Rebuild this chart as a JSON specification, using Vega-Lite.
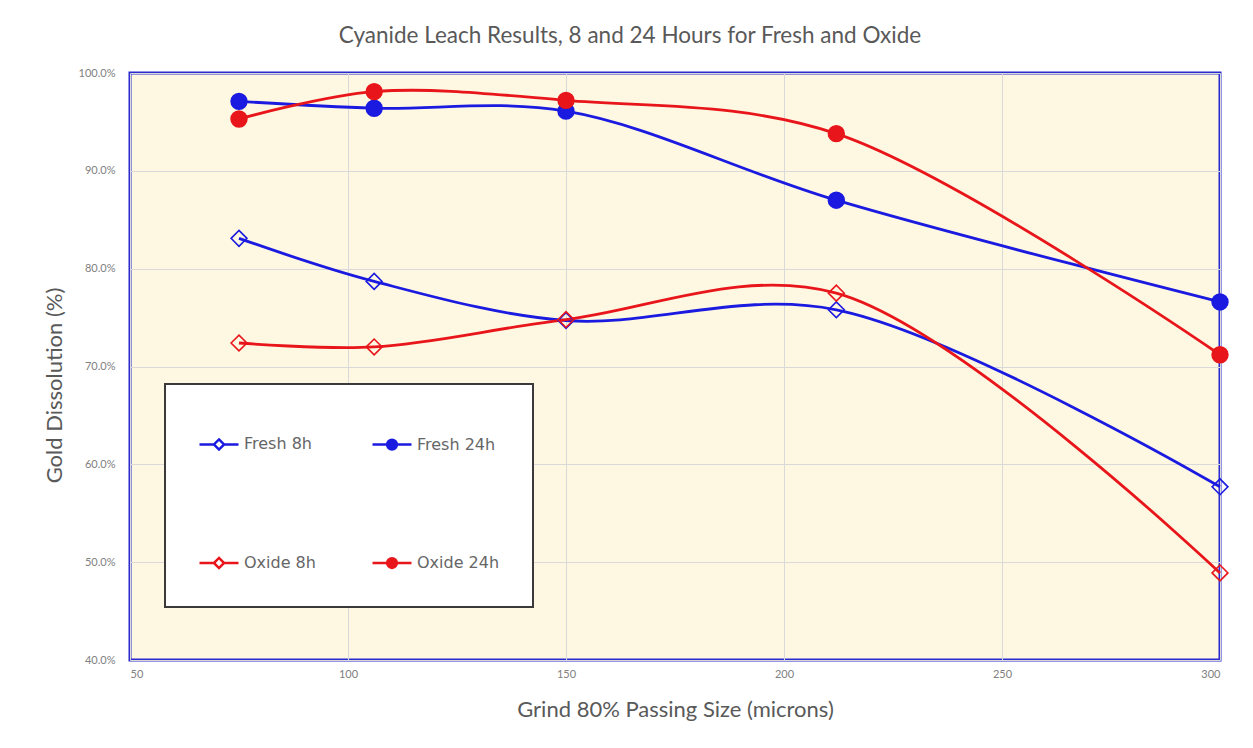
{
  "$schema": "https://vega.github.io/schema/vega-lite/v6.json",
  "width": 1090,
  "height": 587,
  "autosize": {"type": "none"},
  "padding": {"left": 130, "top": 73, "right": 33, "bottom": 88},
  "background": "white",
  "title": {
    "text": "Cyanide Leach Results, 8 and 24 Hours for Fresh and Oxide",
    "font": "Lato",
    "fontSize": 22.5,
    "fontWeight": "normal",
    "color": "#595959",
    "anchor": "middle",
    "frame": "group",
    "dx": -45,
    "offset": 20
  },
  "config": {
    "view": {"fill": "#FEF8E2", "stroke": "#2A2AD0", "strokeWidth": 3},
    "axis": {
      "grid": true,
      "gridColor": "#D9D9D9",
      "gridWidth": 1,
      "domain": false,
      "ticks": false,
      "labelFont": "Lato",
      "labelFontSize": 11,
      "labelColor": "#808080",
      "titleFont": "Lato",
      "titleFontSize": 22,
      "titleFontWeight": "normal",
      "titleColor": "#595959"
    }
  },
  "data": {
    "values": [
      {"grind": 75, "series": "Fresh 8h", "dissolution": 0.831},
      {"grind": 106, "series": "Fresh 8h", "dissolution": 0.787},
      {"grind": 150, "series": "Fresh 8h", "dissolution": 0.747},
      {"grind": 212, "series": "Fresh 8h", "dissolution": 0.758},
      {"grind": 300, "series": "Fresh 8h", "dissolution": 0.577},
      {"grind": 75, "series": "Fresh 24h", "dissolution": 0.971},
      {"grind": 106, "series": "Fresh 24h", "dissolution": 0.964},
      {"grind": 150, "series": "Fresh 24h", "dissolution": 0.961},
      {"grind": 212, "series": "Fresh 24h", "dissolution": 0.870},
      {"grind": 300, "series": "Fresh 24h", "dissolution": 0.766},
      {"grind": 75, "series": "Oxide 8h", "dissolution": 0.724},
      {"grind": 106, "series": "Oxide 8h", "dissolution": 0.720},
      {"grind": 150, "series": "Oxide 8h", "dissolution": 0.748},
      {"grind": 212, "series": "Oxide 8h", "dissolution": 0.775},
      {"grind": 300, "series": "Oxide 8h", "dissolution": 0.489},
      {"grind": 75, "series": "Oxide 24h", "dissolution": 0.953},
      {"grind": 106, "series": "Oxide 24h", "dissolution": 0.981},
      {"grind": 150, "series": "Oxide 24h", "dissolution": 0.972},
      {"grind": 212, "series": "Oxide 24h", "dissolution": 0.938},
      {"grind": 300, "series": "Oxide 24h", "dissolution": 0.712}
    ]
  },
  "encoding": {
    "x": {
      "field": "grind",
      "type": "quantitative",
      "scale": {"domain": [50, 300], "nice": false},
      "axis": {
        "values": [50, 100, 150, 200, 250, 300],
        "labelPadding": 8,
        "title": "Grind 80% Passing Size (microns)",
        "titlePadding": 20
      }
    },
    "y": {
      "field": "dissolution",
      "type": "quantitative",
      "scale": {"domain": [0.4, 1.0], "nice": false, "zero": false},
      "axis": {
        "values": [0.4, 0.5, 0.6, 0.7, 0.8, 0.9, 1.0],
        "format": ".1%",
        "labelPadding": 15,
        "title": "Gold Dissolution (%)",
        "titlePadding": 12,
        "titleY": 312
      }
    }
  },
  "layer": [
    {
      "mark": {"type": "line", "interpolate": "catmull-rom", "strokeWidth": 2.8},
      "encoding": {
        "stroke": {
          "field": "series",
          "type": "nominal",
          "scale": {
            "domain": ["Fresh 8h", "Fresh 24h", "Oxide 8h", "Oxide 24h"],
            "range": ["#1A1AE0", "#1A1AE0", "#E8161B", "#E8161B"]
          },
          "legend": {
            "orient": "none",
            "legendX": 35,
            "legendY": 311,
            "columns": 2,
            "direction": "horizontal",
            "title": " ",
            "titleFontSize": 4,
            "titlePadding": 2,
            "padding": 33,
            "rowPadding": 87,
            "columnPadding": 51,
            "fillColor": "white",
            "strokeColor": "#3A3A3A",
            "labelFont": "DejaVu Sans",
            "labelFontSize": 16,
            "labelColor": "#666666",
            "labelOffset": 4,
            "symbolSize": 1521,
            "symbolStrokeWidth": 2.5,
            "encode": {
              "legend": {"update": {"strokeWidth": {"value": 2}}},
              "symbols": {
                "update": {
                  "shape": {
                    "signal": "(datum.value == 'Fresh 8h' || datum.value == 'Oxide 8h') ? 'M-1,0H-0.26M0.26,0H1M0,-0.26L0.26,0L0,0.26L-0.26,0Z' : 'M-1,0H1M-0.25,0A0.25,0.25,0,1,0,0.25,0A0.25,0.25,0,1,0,-0.25,0Z'"
                  },
                  "stroke": {
                    "signal": "indexof(datum.value, 'Fresh') == 0 ? '#1A1AE0' : '#E8161B'"
                  },
                  "fill": {
                    "signal": "datum.value == 'Fresh 24h' ? '#1A1AE0' : datum.value == 'Oxide 24h' ? '#E8161B' : 'white'"
                  },
                  "strokeWidth": {"value": 2.5},
                  "opacity": {"value": 1}
                }
              }
            }
          }
        }
      }
    },
    {
      "mark": {"type": "point", "opacity": 1, "strokeWidth": 1.6, "size": 250},
      "encoding": {
        "stroke": {"field": "series", "type": "nominal"},
        "fill": {
          "condition": [
            {"test": "datum.series == 'Fresh 24h'", "value": "#1A1AE0"},
            {"test": "datum.series == 'Oxide 24h'", "value": "#E8161B"}
          ],
          "value": "transparent"
        },
        "shape": {
          "condition": {"test": "indexof(datum.series, '24h') > 0", "value": "circle"},
          "value": "diamond"
        }
      }
    }
  ]
}
